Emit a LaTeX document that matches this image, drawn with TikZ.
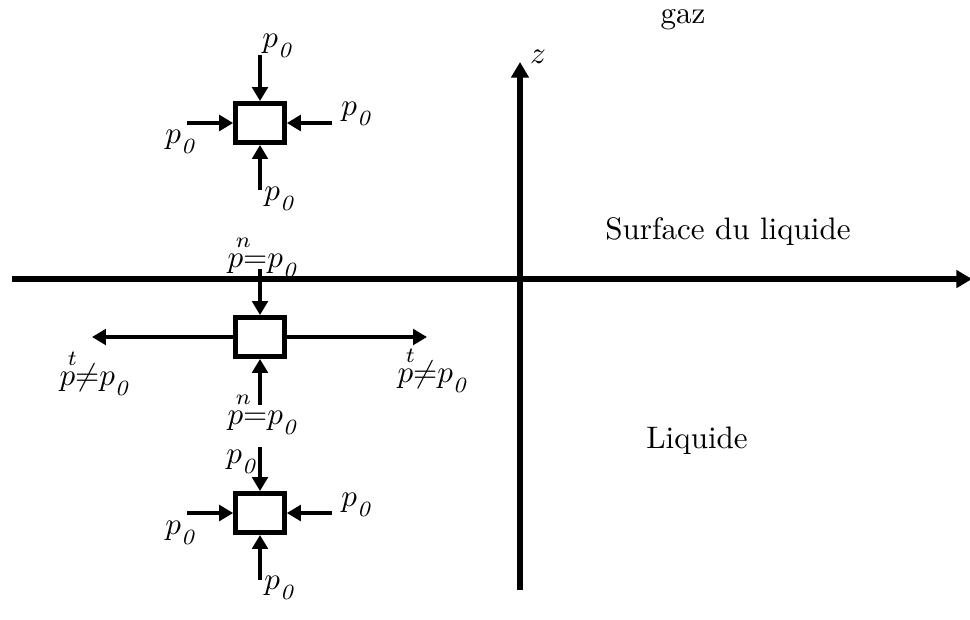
\documentclass[tikz,border=0pt]{standalone}
\usepackage{tikz}
\usetikzlibrary{arrows.meta,positioning}

\newcommand{\zsub}{_{\lower1.8pt\hbox{$\scriptstyle\mathit{0}$}}}
\newcommand{\pz}{$p\zsub$}
\newcommand{\pup}[1]{\rlap{\hspace{2.6pt}\raisebox{6.4pt}{\scriptsize$#1$}}$p$}
\newcommand{\pn}{\pup{n}${=}p\zsub$}
\newcommand{\pt}{\pup{t}${\neq}p\zsub$}

\begin{document}
\begin{tikzpicture}[
  x=0.0113cm, y=-0.0113cm,
  cell/.style={draw, line width=1.6pt, minimum width=0.55cm, minimum height=0.44cm, inner sep=0pt},
  arr/.style={-{Triangle[length=4.5pt,width=5pt]}, line width=1.3pt},
  axe/.style={-{Triangle[length=5pt,width=5.5pt]}, line width=1.7pt},
  lbl/.style={inner sep=1pt}
]
  \useasboundingbox (0,0) rectangle (970,619);

  % axes
  \coordinate (xa) at (12,279);
  \coordinate (xb) at (972,279);
  \coordinate (za) at (520,590);
  \coordinate (zb) at (520,62);
  \draw[axe] (xa) -- (xb);
  \draw[axe] (za) -- (zb);
  \node[lbl] (zlab) at (538,57) {$z$};

  \node (gaz) at (683,20) {gaz};
  \node (surf) at (728,232) {Surface du liquide};
  \node (liq) at (697,441) {Liquide};

  % element dans le gaz
  \node[cell] (c1) at (260,123) {};
  \coordinate (c1n) at (260,55);
  \coordinate (c1w) at (187,123);
  \coordinate (c1e) at (332,123);
  \coordinate (c1s) at (260,190);
  \draw[arr] (c1n) -- (c1.north);
  \draw[arr] (c1w) -- (c1.west);
  \draw[arr] (c1e) -- (c1.east);
  \draw[arr] (c1s) -- (c1.south);
  \node[lbl] (l1n) at (279,46) {\pz};
  \node[lbl] (l1w) at (182,142) {\pz};
  \node[lbl] (l1e) at (358,114) {\pz};
  \node[lbl] (l1s) at (281,199) {\pz};

  % element a la surface
  \node[cell] (c2) at (260,337) {};
  \coordinate (c2n) at (260,269);
  \coordinate (c2s) at (260,405);
  \coordinate (c2w) at (92,337);
  \coordinate (c2e) at (427,337);
  \draw[arr] (c2n) -- (c2.north);
  \draw[arr] (c2s) -- (c2.south);
  \draw[arr] (c2.west) -- (c2w);
  \draw[arr] (c2.east) -- (c2e);
  \node[lbl] (l2n) at (264,258) {\pn};
  \node[lbl] (l2s) at (264,415) {\pn};
  \node[lbl] (l2w) at (96,374) {\pt};
  \node[lbl] (l2e) at (434,371) {\pt};

  % element dans le liquide
  \node[cell] (c3) at (260,513) {};
  \coordinate (c3n) at (260,447);
  \coordinate (c3w) at (187,513);
  \coordinate (c3e) at (332,513);
  \coordinate (c3s) at (260,580);
  \draw[arr] (c3n) -- (c3.north);
  \draw[arr] (c3w) -- (c3.west);
  \draw[arr] (c3e) -- (c3.east);
  \draw[arr] (c3s) -- (c3.south);
  \node[lbl] (l3n) at (243,462) {\pz};
  \node[lbl] (l3w) at (182,533) {\pz};
  \node[lbl] (l3e) at (358,505) {\pz};
  \node[lbl] (l3s) at (281,588) {\pz};
\end{tikzpicture}
\end{document}
